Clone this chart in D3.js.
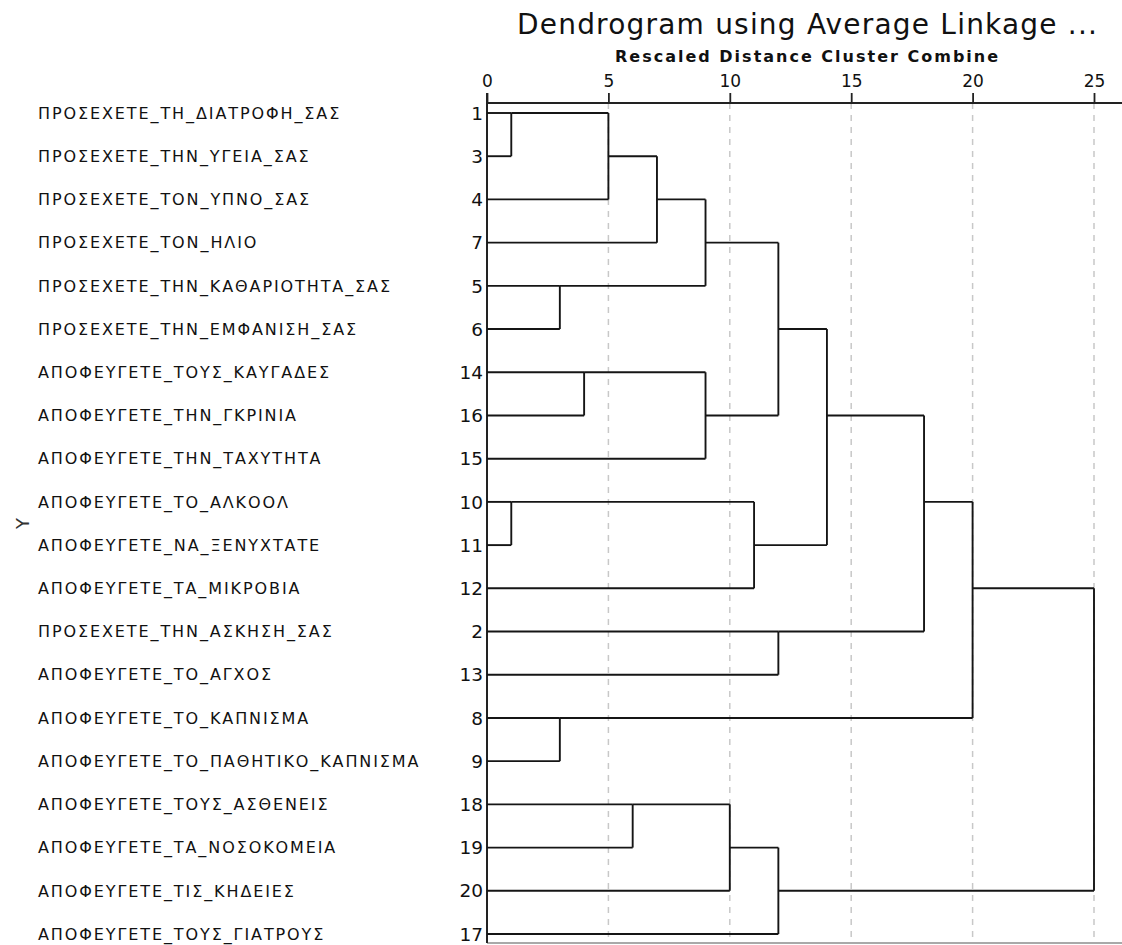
<!DOCTYPE html>
<html lang="el">
<head>
  <meta charset="utf-8">
  <title>Dendrogram using Average Linkage</title>
  <script src="https://d3js.org/d3.v7.min.js"></script>
  <style>
    html, body {
      margin: 0;
      padding: 0;
      width: 100%;
      height: 100%;
      background: #fff;
    }
    svg {
      display: block;
      font-family: "DejaVu Sans", sans-serif;
    }
    .grid line {
      stroke: #c8c8c8;
      stroke-width: 1.5px;
      stroke-dasharray: 6 6;
    }
    .link {
      stroke: #151515;
      stroke-width: 1.9px;
      fill: none;
    }
  </style>
</head>
<body>
  <svg></svg>
  <script>
    const width = 1122;
    const height = 945;

    // Σειρά των περιπτώσεων όπως εμφανίζονται στο δενδρόγραμμα
    const caseNums = [1, 3, 4, 7, 5, 6, 14, 16, 15, 10, 11, 12, 2, 13, 8, 9, 18, 19, 20, 17];
    const caseLabels = [
      "ΠΡΟΣΕΧΕΤΕ_ΤΗ_ΔΙΑΤΡΟΦΗ_ΣΑΣ",
      "ΠΡΟΣΕΧΕΤΕ_ΤΗΝ_ΥΓΕΙΑ_ΣΑΣ",
      "ΠΡΟΣΕΧΕΤΕ_ΤΟΝ_ΥΠΝΟ_ΣΑΣ",
      "ΠΡΟΣΕΧΕΤΕ_ΤΟΝ_ΗΛΙΟ",
      "ΠΡΟΣΕΧΕΤΕ_ΤΗΝ_ΚΑΘΑΡΙΟΤΗΤΑ_ΣΑΣ",
      "ΠΡΟΣΕΧΕΤΕ_ΤΗΝ_ΕΜΦΑΝΙΣΗ_ΣΑΣ",
      "ΑΠΟΦΕΥΓΕΤΕ_ΤΟΥΣ_ΚΑΥΓΑΔΕΣ",
      "ΑΠΟΦΕΥΓΕΤΕ_ΤΗΝ_ΓΚΡΙΝΙΑ",
      "ΑΠΟΦΕΥΓΕΤΕ_ΤΗΝ_ΤΑΧΥΤΗΤΑ",
      "ΑΠΟΦΕΥΓΕΤΕ_ΤΟ_ΑΛΚΟΟΛ",
      "ΑΠΟΦΕΥΓΕΤΕ_ΝΑ_ΞΕΝΥΧΤΑΤΕ",
      "ΑΠΟΦΕΥΓΕΤΕ_ΤΑ_ΜΙΚΡΟΒΙΑ",
      "ΠΡΟΣΕΧΕΤΕ_ΤΗΝ_ΑΣΚΗΣΗ_ΣΑΣ",
      "ΑΠΟΦΕΥΓΕΤΕ_ΤΟ_ΑΓΧΟΣ",
      "ΑΠΟΦΕΥΓΕΤΕ_ΤΟ_ΚΑΠΝΙΣΜΑ",
      "ΑΠΟΦΕΥΓΕΤΕ_ΤΟ_ΠΑΘΗΤΙΚΟ_ΚΑΠΝΙΣΜΑ",
      "ΑΠΟΦΕΥΓΕΤΕ_ΤΟΥΣ_ΑΣΘΕΝΕΙΣ",
      "ΑΠΟΦΕΥΓΕΤΕ_ΤΑ_ΝΟΣΟΚΟΜΕΙΑ",
      "ΑΠΟΦΕΥΓΕΤΕ_ΤΙΣ_ΚΗΔΕΙΕΣ",
      "ΑΠΟΦΕΥΓΕΤΕ_ΤΟΥΣ_ΓΙΑΤΡΟΥΣ"
    ];

    // Πρόγραμμα συγχώνευσης: [συστάδα 1, συστάδα 2, κλιμακωμένη απόσταση]
    const mergeA = [1, 10, 5, 8, 14, 1, 18, 1, 1, 14, 18, 10, 1, 2, 18, 1, 1, 1, 1];
    const mergeB = [3, 11, 6, 9, 16, 4, 19, 7, 5, 15, 20, 12, 14, 13, 17, 10, 2, 8, 18];
    const mergeDist = [1, 1, 3, 3, 4, 5, 6, 7, 9, 9, 10, 11, 12, 12, 12, 14, 18, 20, 25];

    const axisTicks = [0, 5, 10, 15, 20, 25];

    const x = d3.scaleLinear().domain([0, 25]).range([487, 1094]);
    const y = d3.scaleLinear().domain([0, caseNums.length - 1]).range([113, 934]);

    const svg = d3.select("svg").attr("width", width).attr("height", height);

    const axisY = 103;
    const bottomY = 943;

    // Τίτλοι
    svg.append("text")
      .attr("x", 517)
      .attr("y", 34)
      .attr("font-size", 28)
      .attr("letter-spacing", 1.2)
      .attr("fill", "#111")
      .text("Dendrogram using Average Linkage ...");

    svg.append("text")
      .attr("x", 615)
      .attr("y", 62)
      .attr("font-size", 16)
      .attr("font-weight", "bold")
      .attr("letter-spacing", 2)
      .attr("fill", "#111")
      .text("Rescaled Distance Cluster Combine");

    // Διακεκομμένες γραμμές πλέγματος
    svg.append("g")
      .attr("class", "grid")
      .selectAll("line")
      .data(axisTicks.filter(d => d > 0))
      .join("line")
      .attr("x1", d => x(d))
      .attr("x2", d => x(d))
      .attr("y1", axisY)
      .attr("y2", bottomY);

    // Άξονας
    const axis = d3.axisTop(x).tickValues(axisTicks).tickSize(10).tickPadding(6).tickSizeOuter(0);
    const gAxis = svg.append("g")
      .attr("transform", `translate(0,${axisY})`)
      .call(axis);
    gAxis.select(".domain").remove();
    gAxis.selectAll(".tick line").attr("stroke", "#222").attr("stroke-width", 1.8);
    gAxis.selectAll(".tick text")
      .attr("font-family", "DejaVu Sans, sans-serif")
      .attr("font-size", 17)
      .attr("fill", "#111");

    svg.append("line")
      .attr("x1", x(0)).attr("x2", width)
      .attr("y1", axisY).attr("y2", axisY)
      .attr("stroke", "#222").attr("stroke-width", 2);
    svg.append("line")
      .attr("x1", x(0)).attr("x2", width)
      .attr("y1", bottomY).attr("y2", bottomY)
      .attr("stroke", "#555").attr("stroke-width", 1.2);
    svg.append("line")
      .attr("x1", x(0)).attr("x2", x(0))
      .attr("y1", axisY - 10).attr("y2", bottomY)
      .attr("stroke", "#222").attr("stroke-width", 2);

    // Ετικέτες περιπτώσεων
    svg.append("g")
      .selectAll("text")
      .data(caseLabels)
      .join("text")
      .attr("x", 38)
      .attr("y", (d, i) => y(i))
      .attr("dy", "0.36em")
      .attr("font-size", 16)
      .attr("letter-spacing", 1.9)
      .attr("fill", "#111")
      .text(d => d);

    svg.append("g")
      .selectAll("text")
      .data(caseNums)
      .join("text")
      .attr("x", 483)
      .attr("y", (d, i) => y(i))
      .attr("dy", "0.36em")
      .attr("text-anchor", "end")
      .attr("font-size", 18.5)
      .attr("fill", "#111")
      .text(d => d);

    svg.append("text")
      .attr("transform", `translate(29,${y(9.5)}) rotate(-90)`)
      .attr("text-anchor", "middle")
      .attr("font-size", 18)
      .attr("fill", "#333")
      .text("Y");

    // Κατασκευή των κλαδιών του δενδρογράμματος
    const clusters = new Map();
    caseNums.forEach((c, i) => clusters.set(c, { row: i, dist: 0 }));

    const segments = [];
    mergeA.forEach((a, k) => {
      const ca = clusters.get(a);
      const cb = clusters.get(mergeB[k]);
      const d = mergeDist[k];
      segments.push([ca.dist, ca.row, d, ca.row]);
      segments.push([cb.dist, cb.row, d, cb.row]);
      segments.push([d, Math.min(ca.row, cb.row), d, Math.max(ca.row, cb.row)]);
      const row = Math.floor((ca.row + cb.row) / 2);
      clusters.set(a, { row: row, dist: d });
      clusters.delete(mergeB[k]);
    });

    svg.append("g")
      .selectAll("line")
      .data(segments)
      .join("line")
      .attr("class", "link")
      .attr("x1", s => x(s[0]))
      .attr("y1", s => y(s[1]))
      .attr("x2", s => x(s[2]))
      .attr("y2", s => y(s[3]));
  </script>
</body>
</html>
